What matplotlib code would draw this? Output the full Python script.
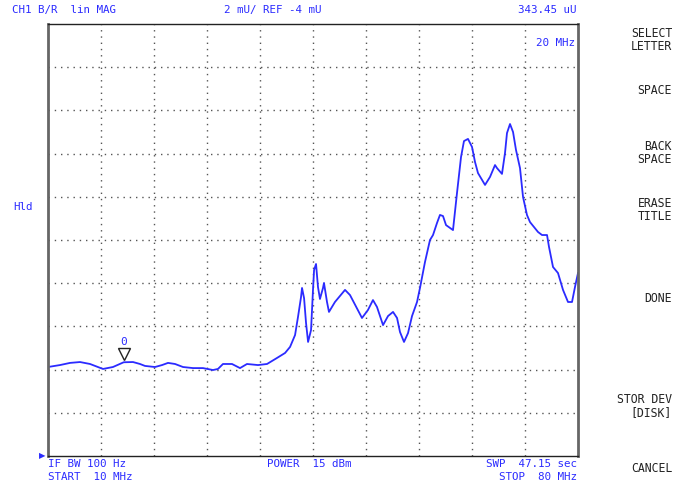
import matplotlib.pyplot as plt

# B/R linear magnitude sweep, 10-80 MHz
freq_mhz = [10.00, 11.58, 12.91, 14.23, 15.55, 17.26, 18.58, 20.00, 21.23, 22.15,
            22.81, 24.13, 25.06, 25.85, 26.78, 27.83, 29.15, 30.47, 31.79, 32.45,
            33.11, 34.30, 35.36, 36.28, 37.74, 38.93, 40.25, 41.31, 41.97, 42.63,
            43.02, 43.42, 43.55, 43.82, 44.08, 44.35, 44.74, 45.00, 45.14, 45.40,
            45.66, 45.92, 46.32, 46.45, 46.85, 47.11, 47.90, 49.23, 49.89, 51.47,
            52.26, 52.92, 53.45, 54.25, 54.91, 55.57, 56.10, 56.49, 57.02, 57.55,
            58.08, 58.74, 59.13, 59.79, 60.45, 60.85, 61.38, 61.77, 62.17, 62.57,
            63.49, 64.02, 64.55, 64.94, 65.47, 66.00, 66.40, 66.79, 67.72, 68.38,
            69.04, 69.30, 69.96, 70.36, 70.62, 71.02, 71.42, 71.81, 72.34, 72.74,
            73.26, 73.66, 74.72, 75.25, 75.91, 76.17, 76.70, 77.36, 78.02, 78.68,
            79.21, 79.60, 80.00]
mag_mu = [0.12, 0.21, 0.31, 0.35, 0.26, 0.03, 0.12, 0.34, 0.35, 0.26,
          0.17, 0.12, 0.21, 0.31, 0.26, 0.12, 0.07, 0.07, -0.02, 0.03,
          0.26, 0.26, 0.07, 0.26, 0.21, 0.26, 0.54, 0.77, 1.05, 1.60,
          2.44, 3.36, 3.78, 3.31, 2.16, 1.28, 1.83, 3.69, 4.61, 4.89,
          3.82, 3.27, 3.78, 4.01, 3.13, 2.67, 3.13, 3.69, 3.45, 2.39,
          2.76, 3.22, 2.90, 2.06, 2.48, 2.67, 2.39, 1.74, 1.28, 1.69,
          2.48, 3.13, 3.78, 4.98, 6.00, 6.23, 6.79, 7.16, 7.11, 6.69,
          6.46, 8.18, 9.84, 10.58, 10.68, 10.31, 9.61, 9.10, 8.55, 8.92,
          9.47, 9.33, 9.06, 10.03, 10.95, 11.37, 11.00, 10.17, 9.33, 7.99,
          7.16, 6.83, 6.37, 6.23, 6.23, 5.68, 4.75, 4.47, 3.69, 3.13,
          3.13, 3.82, 4.47]

marker_freq = 20.0
marker_val = 0.34345  # 343.45 uU

start_mhz, stop_mhz = 10, 80
ref_mu, scale_mu = -4, 2   # reference at bottom line, 2 mU/div

header_left = "CH1 B/R  lin MAG"
header_mid = "2 mU/ REF -4 mU"
header_right = "343.45 uU"
softkeys = [("SELECT\nLETTER", 40), ("SPACE", 90), ("BACK\nSPACE", 153),
            ("ERASE\nTITLE", 210), ("DONE", 299), ("STOR DEV\n[DISK]", 406),
            ("CANCEL", 468)]

W, H = 673, 487
blue = "#2b2bff"
mono = "DejaVu Sans Mono"

fig = plt.figure(figsize=(W / 100, H / 100), dpi=100)
ax = fig.add_axes([48 / W, (H - 456) / H, 530 / W, 432 / H])

ax.set_xlim(start_mhz, stop_mhz)
ax.set_ylim(ref_mu, ref_mu + 10 * scale_mu)
step_x = (stop_mhz - start_mhz) / 10
for i in range(1, 10):
    ax.axvline(start_mhz + i * step_x, color="#555555", lw=1.0, ls=(0, (1, 3.5)))
    ax.axhline(ref_mu + i * scale_mu, color="#555555", lw=1.0, ls=(0, (1, 3.5)))
ax.set_xticks([])
ax.set_yticks([])
for side in ["top", "bottom"]:
    ax.spines[side].set_color("#222222")
    ax.spines[side].set_linewidth(1.0)
for side in ["left", "right"]:
    ax.spines[side].set_color("#666666")
    ax.spines[side].set_linewidth(2.0)

ax.plot(freq_mhz, mag_mu, color=blue, lw=1.3, solid_joinstyle="round")

# marker 0
ax.plot(marker_freq, marker_val + 0.36, marker="v", ms=8, mfc="white",
        mec="#222222", mew=1.0)
ax.text(marker_freq, marker_val + 0.95, "0", color=blue, family=mono,
        fontsize=8, ha="center", va="center")
ax.text(0.995, 0.955, "20 MHz", transform=ax.transAxes, color=blue,
        family=mono, fontsize=7.8, ha="right", va="center")

def ftext(x, y, s, **kw):
    fig.text(x / W, 1 - y / H, s, family=mono, fontsize=7.8, va="center", **kw)

ftext(12, 10, header_left, color=blue, ha="left")
ftext(224, 10, header_mid, color=blue, ha="left")
ftext(577, 10, header_right, color=blue, ha="right")
ftext(13, 207, "Hld", color=blue, ha="left")
ftext(48, 464, "IF BW 100 Hz", color=blue, ha="left")
ftext(48, 477, "START  10 MHz", color=blue, ha="left")
ftext(267, 464, "POWER  15 dBm", color=blue, ha="left")
ftext(577, 464, "SWP  47.15 sec", color=blue, ha="right")
ftext(577, 477, "STOP  80 MHz", color=blue, ha="right")

for label, y in softkeys:
    fig.text(672 / W, 1 - y / H, label, family=mono, fontsize=8.3,
             color="#222222", ha="right", va="center", linespacing=0.95,
             multialignment="right")

# reference line pointer
fig.text(39 / W, 1 - 456 / H, "\u25b6", color=blue, fontsize=6,
         family="DejaVu Sans", ha="left", va="center")

fig.savefig("out.png", dpi=100)
